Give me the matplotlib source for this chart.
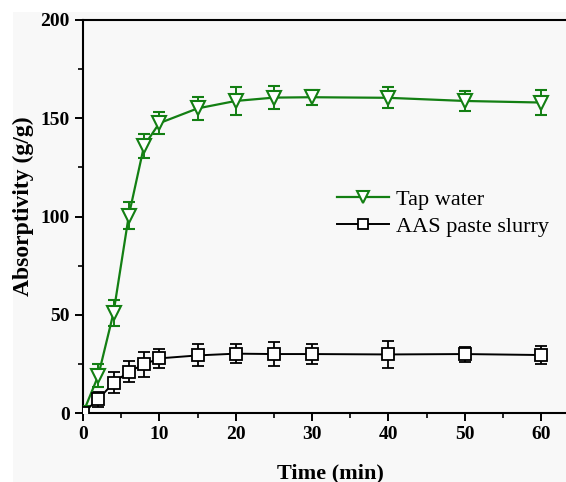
import matplotlib
matplotlib.use("Agg")
import matplotlib.pyplot as plt
from matplotlib.patches import Rectangle
from matplotlib.lines import Line2D
from matplotlib.ticker import MultipleLocator

time = [0, 2, 4, 6, 8, 10, 15, 20, 25, 30, 40, 50, 60]
tap_water = [0, 19, 51, 100.5, 136, 147.5, 155, 158.8, 160.5, 160.7, 160.4, 158.8, 158.0]
tap_err = [0, 6, 6.6, 7, 6, 5.5, 5.7, 7, 5.7, 3.8, 5.3, 4.9, 6.6]
aas = [0, 7, 15.4, 21, 24.8, 27.8, 29.3, 30.2, 30.0, 30.0, 29.8, 30.0, 29.5]
aas_err = [0, 3.8, 5.3, 5.3, 6.3, 4.8, 5.6, 4.8, 6.0, 5.3, 7.0, 3.8, 4.6]
labels = ["Tap water", "AAS paste slurry"]

W, H = 566, 482
fig = plt.figure(figsize=(W / 100, H / 100), dpi=100)
fig.patch.set_facecolor("white")
bg = "#f8f8f8"
fig.patches.append(Rectangle((13 / W, 0), 1 - 13 / W, (H - 12) / H,
                             transform=fig.transFigure, facecolor=bg,
                             edgecolor="none", zorder=-10))

left, right_px, top, bottom = 83, 575, 20, 413
ax = fig.add_axes([left / W, (H - bottom) / H, (right_px - left) / W, (bottom - top) / H])
ax.set_facecolor(bg)

green = "#137f13"
ax.errorbar(time, tap_water, yerr=tap_err, color=green, marker="v", markersize=10,
            markerfacecolor="white", markeredgecolor=green, markeredgewidth=1.5,
            linewidth=1.6, capsize=4, elinewidth=1.4, capthick=1.4, zorder=3)
ax.errorbar(time, aas, yerr=aas_err, color="black", marker="s", markersize=8,
            markerfacecolor="white", markeredgecolor="black", markeredgewidth=1.3,
            linewidth=1.4, capsize=4, elinewidth=1.3, capthick=1.3, zorder=3)

px_per_min = (541 - 83) / 60
ax.set_xlim(0, (right_px - left) / px_per_min)
ax.set_ylim(0, 200)
ax.set_xticks([0, 10, 20, 30, 40, 50, 60])
ax.set_yticks([0, 50, 100, 150, 200])
ax.xaxis.set_minor_locator(MultipleLocator(5))
ax.yaxis.set_minor_locator(MultipleLocator(25))

for s in ["left", "bottom", "top"]:
    ax.spines[s].set_linewidth(1.5)
ax.spines["right"].set_visible(False)
ax.tick_params(which="major", direction="out", length=6, width=1.4, top=False, right=False)
ax.tick_params(which="minor", direction="out", length=3.5, width=1.2, top=False, right=False)

for lab in ax.get_xticklabels() + ax.get_yticklabels():
    lab.set_fontfamily("Liberation Serif")
    lab.set_fontweight("bold")
    lab.set_fontsize(14)

axw = right_px - left
axh = bottom - top
ax.set_xlabel("Time (min)", fontfamily="Liberation Serif", fontweight="bold", fontsize=16)
ax.xaxis.set_label_coords((330 - left) / axw, (bottom - 463) / axh)
ax.set_ylabel("Absorptivity (g/g)", fontfamily="Liberation Serif", fontweight="bold", fontsize=17,
              va="center")
ax.yaxis.set_label_coords((23 - left) / axw, (bottom - 206) / axh)

handles = [
    Line2D([], [], color=green, marker="v", markersize=9, markerfacecolor="white",
           markeredgecolor=green, markeredgewidth=1.5, linewidth=1.6),
    Line2D([], [], color="black", marker="s", markersize=7, markerfacecolor="white",
           markeredgecolor="black", markeredgewidth=1.3, linewidth=1.4),
]
leg = ax.legend(handles, labels, loc="center left", bbox_to_anchor=(337 / W, 1 - 213 / H),
                bbox_transform=fig.transFigure, frameon=False,
                prop={"family": "Liberation Serif", "size": 16},
                handlelength=2.35, handletextpad=0.3, borderpad=0, borderaxespad=0,
                labelspacing=0.3)

fig.savefig("out.png", dpi=100, facecolor="white")
